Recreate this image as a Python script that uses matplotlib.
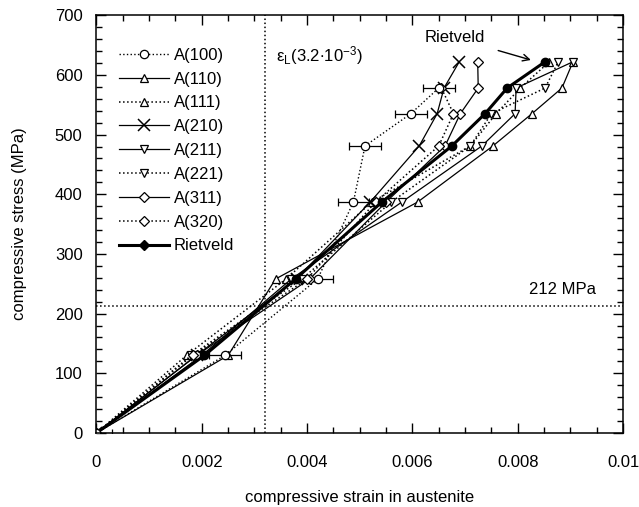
import matplotlib
matplotlib.use("Agg")
import matplotlib.pyplot as plt
from matplotlib.lines import Line2D
from matplotlib.ticker import MultipleLocator, FuncFormatter

plt.rcParams['font.family'] = ['Liberation Sans', 'DejaVu Sans']

# applied stress levels (MPa)
stress = [0, 130, 258, 387, 481, 535, 578, 622]

# lattice strains
a100 = [0, 0.00244, 0.00420, 0.00488, 0.00510, 0.00597, 0.00650]
a100_err = [0.0003, 0.0003, 0.0003, 0.0003, 0.0003, 0.0003, 0.0003]
a110 = [0, 0.00250, 0.00340, 0.00610, 0.00753, 0.00827, 0.00884, 0.00905]
a111 = [0, 0.00171, 0.00360, 0.00523, 0.00710, 0.00759, 0.00805, 0.00860]
a210 = [0, 0.00190, 0.00380, 0.00520, 0.00613, 0.00647, 0.00660, 0.00689]
a211 = [0, 0.00200, 0.00370, 0.00580, 0.00732, 0.00795, 0.00797, 0.00905]
a221 = [0, 0.00180, 0.00390, 0.00560, 0.00710, 0.00750, 0.00852, 0.00877]
a311 = [0, 0.00190, 0.00405, 0.00550, 0.00662, 0.00691, 0.00725, 0.00724]
a320 = [0, 0.00183, 0.00400, 0.00530, 0.00650, 0.00678, 0.00655]
rietveld = [0, 0.00205, 0.00378, 0.00542, 0.00675, 0.00738, 0.00780, 0.00852]

eps_L = 0.0032
sigma_212 = 212

fig = plt.figure(figsize=(6.39, 5.07), dpi=100, facecolor='w')
ax = fig.add_axes([0.151, 0.146, 0.824, 0.824])

fs = 12
mk = dict(markersize=6, markerfacecolor='white', markeredgecolor='k', markeredgewidth=0.9)
dmk = dict(markersize=5, markerfacecolor='white', markeredgecolor='k', markeredgewidth=0.9)

ax.errorbar(a100, stress[:len(a100)], xerr=a100_err, fmt='o:', color='k', lw=1,
            capsize=3, elinewidth=0.9, **mk)
ax.plot(a110, stress, '^-', color='k', lw=0.9, **mk)
ax.plot(a111, stress, '^:', color='k', lw=1.1, **mk)
ax.plot(a210, stress, 'x-', color='k', lw=0.9, markersize=8, mew=1.1)
ax.plot(a211, stress, 'v-', color='k', lw=0.9, **mk)
ax.plot(a221, stress, 'v:', color='k', lw=1.1, **mk)
ax.plot(a311, stress, 'D-', color='k', lw=0.9, **dmk)
ax.plot(a320, stress[:len(a320)], 'D:', color='k', lw=1.1, **dmk)
ax.plot(rietveld, stress, 'o-', color='k', lw=2.2, markersize=6)

# legend handles
handles = [
    Line2D([], [], ls=':', marker='o', color='k', lw=1, **mk),
    Line2D([], [], ls='-', marker='^', color='k', lw=0.9, **mk),
    Line2D([], [], ls=':', marker='^', color='k', lw=1.1, **mk),
    Line2D([], [], ls='-', marker='x', color='k', lw=0.9, markersize=8, mew=1.1),
    Line2D([], [], ls='-', marker='v', color='k', lw=0.9, **mk),
    Line2D([], [], ls=':', marker='v', color='k', lw=1.1, **mk),
    Line2D([], [], ls='-', marker='D', color='k', lw=0.9, **dmk),
    Line2D([], [], ls=':', marker='D', color='k', lw=1.1, **dmk),
    Line2D([], [], ls='-', marker='D', color='k', lw=2.2, markersize=5),
]
labels = ['A(100)', 'A(110)', 'A(111)', 'A(210)', 'A(211)', 'A(221)',
          'A(311)', 'A(320)', 'Rietveld']

ax.axvline(eps_L, color='k', ls=':', lw=1.1)
ax.axhline(sigma_212, color='k', ls=':', lw=1.1)

ax.text(0.0034, 633, r'$\mathregular{\epsilon_L(3.2{\bullet}10^{-3})}$', fontsize=fs,
        va='center', ha='left')
ax.text(0.00885, 240, '212 MPa', fontsize=fs, ha='center', va='center')
ax.annotate('Rietveld', xy=(0.00825, 625), xytext=(0.0068, 662), fontsize=fs,
            ha='center', va='center',
            arrowprops=dict(arrowstyle='->', color='k', lw=1, shrinkA=8, shrinkB=0))

ax.set_xlim(0, 0.01)
ax.set_ylim(0, 700)
ax.xaxis.set_major_locator(MultipleLocator(0.002))
ax.xaxis.set_minor_locator(MultipleLocator(0.0005))
ax.yaxis.set_major_locator(MultipleLocator(100))
ax.yaxis.set_minor_locator(MultipleLocator(20))
ax.xaxis.set_major_formatter(FuncFormatter(lambda v, p: '0' if v == 0 else f'{v:g}'))
ax.tick_params(which='both', direction='in', top=True, right=True, labelsize=fs, width=1)
ax.tick_params(which='major', length=7)
ax.tick_params(which='minor', length=4)
ax.tick_params(axis='x', which='major', pad=16)
ax.tick_params(axis='y', which='major', pad=10)
for s in ax.spines.values():
    s.set_linewidth(1.1)

ax.set_xlabel('compressive strain in austenite', fontsize=fs, labelpad=14)
ax.set_ylabel('compressive stress (MPa)', fontsize=fs, labelpad=20)

ax.legend(handles, labels, loc='upper left', bbox_to_anchor=(0.02, 0.95), frameon=False,
          fontsize=fs, handlelength=3.0, handletextpad=0.3, labelspacing=0.53,
          borderaxespad=0.3)

fig.savefig('out.png', dpi=100)
